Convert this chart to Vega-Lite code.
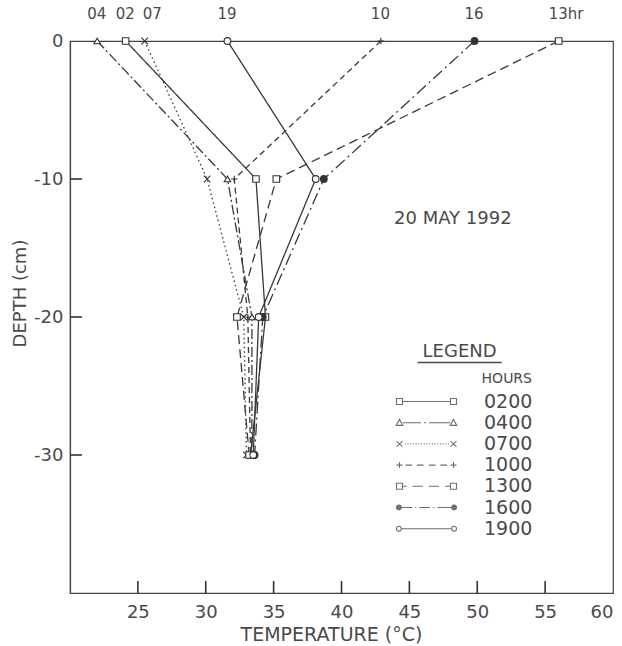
{
  "$schema": "https://vega.github.io/schema/vega-lite/v6.json",
  "autosize": {"type": "none"},
  "padding": {"left": 70, "top": 41, "right": 9, "bottom": 53},
  "width": 543,
  "height": 552,
  "background": "white",
  "config": {
    "view": {"stroke": "#444", "strokeWidth": 1.2},
    "font": "DejaVu Sans",
    "text": {"font": "DejaVu Sans", "color": "#4a4a4a"}
  },
  "datasets": {
    "profiles": [
      {"hour": "0200", "depth": 0, "temp": 24.1, "lab": "02"},
      {"hour": "0200", "depth": -10, "temp": 33.7},
      {"hour": "0200", "depth": -20, "temp": 34.4},
      {"hour": "0200", "depth": -30, "temp": 33.3},
      {"hour": "0400", "depth": 0, "temp": 22.0, "lab": "04"},
      {"hour": "0400", "depth": -10, "temp": 31.6},
      {"hour": "0400", "depth": -20, "temp": 33.4},
      {"hour": "0400", "depth": -30, "temp": 33.4},
      {"hour": "0700", "depth": 0, "temp": 25.5, "lab": "07"},
      {"hour": "0700", "depth": -10, "temp": 30.1},
      {"hour": "0700", "depth": -20, "temp": 32.8},
      {"hour": "0700", "depth": -30, "temp": 33.0},
      {"hour": "1000", "depth": 0, "temp": 42.9, "lab": "10"},
      {"hour": "1000", "depth": -10, "temp": 32.1},
      {"hour": "1000", "depth": -20, "temp": 33.1},
      {"hour": "1000", "depth": -30, "temp": 33.3},
      {"hour": "1300", "depth": 0, "temp": 56.0, "lab": "13hr"},
      {"hour": "1300", "depth": -10, "temp": 35.2},
      {"hour": "1300", "depth": -20, "temp": 32.3},
      {"hour": "1300", "depth": -30, "temp": 33.2},
      {"hour": "1600", "depth": 0, "temp": 49.8, "lab": "16"},
      {"hour": "1600", "depth": -10, "temp": 38.7},
      {"hour": "1600", "depth": -20, "temp": 34.2},
      {"hour": "1600", "depth": -30, "temp": 33.6},
      {"hour": "1900", "depth": 0, "temp": 31.6, "lab": "19"},
      {"hour": "1900", "depth": -10, "temp": 38.1},
      {"hour": "1900", "depth": -20, "temp": 33.9},
      {"hour": "1900", "depth": -30, "temp": 33.5}
    ],
    "notes": [
      {"temp": 48.2, "depth": -12.9, "text": "20 MAY 1992"},
      {"temp": 48.7, "depth": -22.5, "text": "LEGEND"}
    ],
    "underline": [
      {"temp": 45.6, "temp2": 51.8, "depth": -23.3}
    ],
    "xticks": [{"temp": 25}, {"temp": 30}, {"temp": 35}, {"temp": 40}, {"temp": 45}, {"temp": 50}, {"temp": 55}],
    "yticks": [{"depth": -10}, {"depth": -20}, {"depth": -30}]
  },
  "resolve": {
    "scale": {"shape": "independent", "size": "independent", "fill": "independent"},
    "legend": {"shape": "independent"},
    "axis": {"x": "independent", "y": "independent"}
  },
  "layer": [
    {
      "data": {"name": "profiles"},
      "mark": {"type": "line", "color": "#383838", "strokeWidth": 1.3},
      "encoding": {
        "x": {
          "field": "temp", "type": "quantitative",
          "scale": {"domain": [20, 60], "nice": false, "zero": false},
          "axis": {
            "orient": "bottom",
            "values": [25, 30, 35, 40, 45, 50, 55, 60],
            "title": "TEMPERATURE (°C)",
            "grid": false, "ticks": false,
            "domainColor": "#444", "domainWidth": 1.2,
            "labelFontSize": 18, "labelColor": "#4a4a4a", "labelFont": "DejaVu Sans",
            "labelPadding": 10, "labelBaseline": "top",
            "titleFontSize": 19, "titleFontWeight": "normal", "titleColor": "#4a4a4a", "titleFont": "DejaVu Sans",
            "titleX": 261, "titleY": 41, "titleBaseline": "middle", "titleAnchor": "middle", "titleAlign": "center"
          }
        },
        "y": {
          "field": "depth", "type": "quantitative",
          "scale": {"domain": [-40, 0], "nice": false, "zero": false},
          "axis": {
            "orient": "left",
            "values": [0, -10, -20, -30],
            "labelExpr": "'' + datum.value",
            "title": "DEPTH (cm)",
            "grid": false, "ticks": false,
            "domainColor": "#444", "domainWidth": 1.2,
            "labelFontSize": 18, "labelColor": "#4a4a4a", "labelFont": "DejaVu Sans",
            "labelPadding": 7,
            "titleFontSize": 18, "titleFontWeight": "normal", "titleColor": "#4a4a4a", "titleFont": "DejaVu Sans",
            "titleX": -50, "titleY": 252, "titleBaseline": "middle", "titleAlign": "center", "titleAngle": -90
          }
        },
        "detail": {"field": "hour", "type": "nominal"},
        "order": {"field": "depth", "sort": "descending"},
        "strokeDash": {
          "field": "hour", "type": "nominal",
          "scale": {
            "domain": ["0200", "0400", "0700", "1000", "1300", "1600", "1900"],
            "range": [[1, 0], [10, 3, 2, 3], [1.5, 3], [6, 4], [9, 5], [12, 4, 2, 4], [1, 0]]
          },
          "legend": null
        }
      }
    },
    {
      "data": {"name": "xticks"},
      "mark": {"type": "rule", "color": "#333", "strokeWidth": 1.6},
      "encoding": {
        "x": {"field": "temp", "type": "quantitative", "axis": null},
        "y": {"datum": -40, "type": "quantitative", "axis": null},
        "y2": {"datum": -39.13}
      }
    },
    {
      "data": {"name": "yticks"},
      "mark": {"type": "rule", "color": "#333", "strokeWidth": 1.6},
      "encoding": {
        "y": {"field": "depth", "type": "quantitative", "axis": null},
        "x": {"datum": 20, "type": "quantitative", "axis": null},
        "x2": {"datum": 20.88}
      }
    },
    {
      "data": {"name": "profiles"},
      "mark": {"type": "point", "filled": true, "stroke": "#333", "strokeWidth": 1.1, "opacity": 1},
      "encoding": {
        "x": {"field": "temp", "type": "quantitative", "axis": null},
        "y": {"field": "depth", "type": "quantitative", "axis": null},
        "shape": {
          "field": "hour", "type": "nominal",
          "scale": {
            "domain": ["0200", "0400", "0700", "1000", "1300", "1600", "1900"],
            "range": ["square", "triangle-up", "M-1,-1L1,1M-1,1L1,-1", "M-1,0H1M0,-1V1", "square", "circle", "circle"]
          },
          "legend": null
        },
        "size": {
          "field": "hour", "type": "nominal",
          "scale": {
            "domain": ["0200", "0400", "0700", "1000", "1300", "1600", "1900"],
            "range": [42, 45, 30, 56, 42, 24, 20]
          },
          "legend": null
        },
        "fill": {
          "field": "hour", "type": "nominal",
          "scale": {
            "domain": ["0200", "0400", "0700", "1000", "1300", "1600", "1900"],
            "range": ["white", "white", "white", "white", "white", "#333", "white"]
          },
          "legend": null
        }
      }
    },
    {
      "data": {"name": "profiles"},
      "transform": [{"filter": "isValid(datum.lab) && datum.lab !== '07'"}],
      "mark": {"type": "text", "align": "left", "baseline": "middle", "dx": -10, "dy": -27, "fontSize": 15, "color": "#4a4a4a"},
      "encoding": {
        "x": {"field": "temp", "type": "quantitative", "axis": null},
        "y": {"field": "depth", "type": "quantitative", "axis": null},
        "text": {"field": "lab", "type": "nominal"}
      }
    },
    {
      "data": {"name": "profiles"},
      "transform": [{"filter": "datum.lab === '07'"}],
      "mark": {"type": "text", "align": "left", "baseline": "middle", "dx": -2, "dy": -27, "fontSize": 15, "color": "#4a4a4a"},
      "encoding": {
        "x": {"field": "temp", "type": "quantitative", "axis": null},
        "y": {"field": "depth", "type": "quantitative", "axis": null},
        "text": {"field": "lab", "type": "nominal"}
      }
    },
    {
      "data": {"name": "notes"},
      "mark": {"type": "text", "align": "center", "baseline": "middle", "fontSize": 18, "color": "#4a4a4a"},
      "encoding": {
        "x": {"field": "temp", "type": "quantitative", "axis": null},
        "y": {"field": "depth", "type": "quantitative", "axis": null},
        "text": {"field": "text", "type": "nominal"}
      }
    },
    {
      "data": {"name": "underline"},
      "mark": {"type": "rule", "color": "#4a4a4a", "strokeWidth": 1.5},
      "encoding": {
        "x": {"field": "temp", "type": "quantitative", "axis": null},
        "x2": {"field": "temp2"},
        "y": {"field": "depth", "type": "quantitative", "axis": null}
      }
    },
    {
      "data": {"name": "profiles"},
      "transform": [{"filter": "false"}],
      "mark": {"type": "point", "filled": false, "color": "#333", "size": 144, "strokeWidth": 1.1},
      "encoding": {
        "x": {"field": "temp", "type": "quantitative", "axis": null},
        "y": {"field": "depth", "type": "quantitative", "axis": null},
        "shape": {
          "field": "hour", "type": "nominal",
          "scale": {
            "domain": ["0200", "0400", "0700", "1000", "1300", "1600", "1900"],
            "range": [
              "M-5,-0.5h1v1h-1zM-4,0H4M4,-0.5h1v1h-1z",
              "M-4.5,-0.55L-3.95,0.45L-5.05,0.45ZM-3.95,0H-0.9M-0.45,0H-0.05M0.4,0H3.95M4.5,-0.55L5.05,0.45L3.95,0.45Z",
              "M-5,-0.45L-4,0.45M-5,0.45L-4,-0.45M4,-0.45L5,0.45M4,0.45L5,-0.45M-3.6,0h0.15M-3.15,0h0.15M-2.7,0h0.15M-2.25,0h0.15M-1.8,0h0.15M-1.35,0h0.15M-0.9,0h0.15M-0.45,0h0.15M0,0h0.15M0.45,0h0.15M0.9,0h0.15M1.35,0h0.15M1.8,0h0.15M2.25,0h0.15M2.7,0h0.15M3.15,0h0.15M3.6,0h0.15",
              "M-5,0H-4M-4.5,-0.5V0.5M-3.5,0H-2.4M-1.6,0H-0.5M0.4,0H1.5M2.3,0H3.4M4,0H5M4.5,-0.5V0.5",
              "M-5,-0.5h1v1h-1zM-4,0H-3.3M-2.3,0H-0.6M0.4,0H2.1M3.1,0H4M4,-0.5h1v1h-1z",
              "M-5,0a0.4,0.4 0 1,0 0.8,0a0.4,0.4 0 1,0 -0.8,0M-4.87,0a0.27,0.27 0 1,0 0.54,0a0.27,0.27 0 1,0 -0.54,0M-4.74,0a0.14,0.14 0 1,0 0.28,0a0.14,0.14 0 1,0 -0.28,0M-4.2,0H-2.4M-1.9,0H-1.7M-1.2,0H0.6M1.1,0H1.3M1.8,0H4.2M4.2,0a0.4,0.4 0 1,0 0.8,0a0.4,0.4 0 1,0 -0.8,0M4.33,0a0.27,0.27 0 1,0 0.54,0a0.27,0.27 0 1,0 -0.54,0M4.46,0a0.14,0.14 0 1,0 0.28,0a0.14,0.14 0 1,0 -0.28,0",
              "M-5,0a0.4,0.4 0 1,0 0.8,0a0.4,0.4 0 1,0 -0.8,0M-4.2,0H4.2M4.2,0a0.4,0.4 0 1,0 0.8,0a0.4,0.4 0 1,0 -0.8,0"
            ]
          },
          "legend": {
            "orient": "none", "legendX": 347, "legendY": 331,
            "title": "HOURS", "titleAnchor": "end", "titleFontSize": 14, "titleFontWeight": "normal",
            "titleColor": "#4a4a4a", "titleFont": "DejaVu Sans", "titlePadding": 6,
            "labelFontSize": 19, "labelColor": "#4a4a4a", "labelFont": "DejaVu Sans", "labelOffset": 48,
            "symbolSize": 144, "rowPadding": 1.2, "padding": 0,
            "symbolStrokeWidth": 1.1, "symbolStrokeColor": "#333"
          }
        }
      }
    }
  ]
}
